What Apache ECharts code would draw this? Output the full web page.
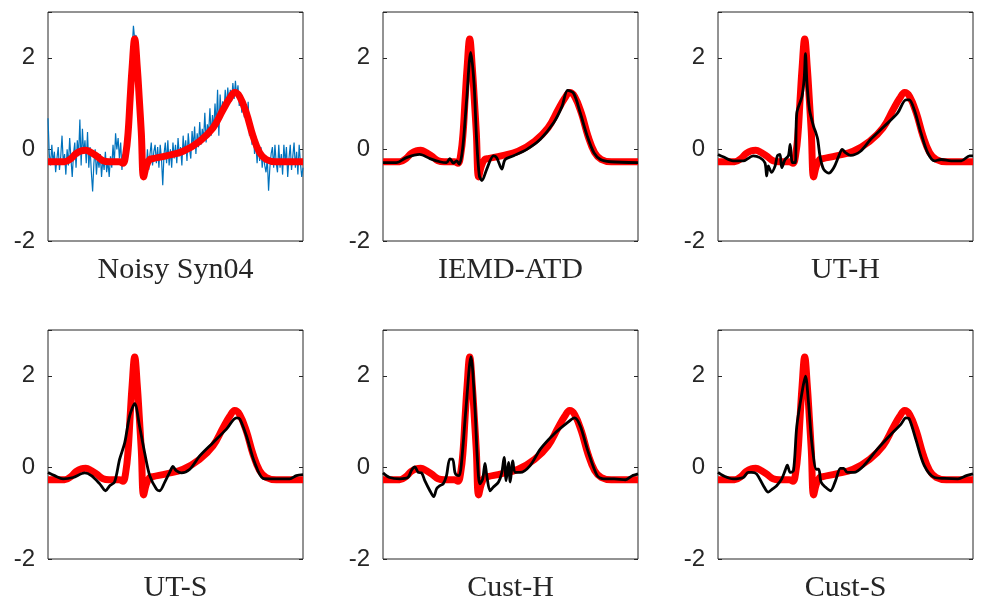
<!DOCTYPE html>
<html>
<head>
<meta charset="utf-8">
<script src="https://cdn.jsdelivr.net/npm/echarts@6/dist/echarts.min.js"></script>
<style>
  html, body { margin: 0; padding: 0; background: #fff; }
  #main { width: 981px; height: 604px; }
</style>
</head>
<body>
<div id="main"></div>
<script>
// panel titles
var titles = ['Noisy Syn04', 'IEMD-ATD', 'UT-H', 'UT-S', 'Cust-H', 'Cust-S'];
var yTicks = [-2, 0, 2];

// clean reference ECG (red, same in every panel)
var cleanX = [0, 6.5, 9, 11, 13, 14.8, 17, 19, 21.6, 24, 28, 29.4, 30.5, 31.4, 32.2, 33, 34, 35, 35.8, 36.6, 37.5, 38.6, 39.9, 41.2, 46.4, 53, 59.5, 64.7, 68.6, 71.2, 73.2, 75.2, 77.8, 80.4, 83, 85.6, 89.5, 100];
var cleanY = [-0.27, -0.27, -0.2, -0.09, -0.03, -0.02, -0.07, -0.14, -0.25, -0.27, -0.27, -0.30, -0.1, 0.36, 1.1, 1.8, 2.41, 1.8, 1.1, 0.36, -0.6, -0.36, -0.22, -0.2, -0.14, -0.04, 0.18, 0.47, 0.86, 1.11, 1.24, 1.15, 0.79, 0.29, -0.07, -0.22, -0.27, -0.27];

// noisy signal (blue), one sample every 0.5 x-units
var noisyY = [
  0.68, -0.1, -0.35, 0.1, -0.3, -0.05, -0.5, -0.2, 0.05, -0.45, -0.15, 0.3, -0.3, -0.1, -0.55, 0.0, -0.35, 0.25, -0.2, -0.6,
  -0.1, 0.15, -0.4, 0.2, -0.15, 0.65, -0.35, 0.45, -0.1, 0.2, -0.3, 0.38, -0.4, 0.05, -0.5, -0.92, -0.3, 0.0, -0.55, -0.15,
  -0.4, -0.1, -0.6, -0.2, -0.45, -0.05, -0.5, -0.25, -0.6, -0.15, -0.4, 0.1, -0.3, 0.35, 0.0, 0.25, -0.2, 0.15, -0.45, -0.1,
  -0.35, 0.1, 0.1, 0.7, 1.1, 1.6, 2.2, 2.7, 2.4, 2.5, 1.6, 1.3, 0.5, 0.3, -0.4, -0.55, -0.2, -0.5, 0.0, -0.45,
  -0.1, 0.15, -0.35, -0.05, 0.1, -0.3, 0.05, -0.4, 0.1, -0.2, -0.78, -0.1, 0.15, -0.3, 0.2, -0.35, 0.0, -0.4, 0.15, -0.2,
  0.1, -0.3, 0.25, -0.15, 0.05, -0.35, 0.3, -0.1, 0.2, -0.25, 0.35, 0.0, -0.2, 0.4, 0.05, 0.5, -0.1, 0.35, 0.05, 0.6,
  0.1, 0.45, 0.2, 0.8, 0.15, 0.55, 0.35, 0.9, 0.3, 0.75, 0.45, 1.0, 0.5, 1.3, 0.3, 1.2, 0.7, 1.05, 0.8, 1.3,
  0.9, 1.35, 1.0, 1.3, 1.05, 1.45, 1.1, 1.5, 1.15, 1.4, 0.95, 1.2, 0.8, 1.0, 0.7, 0.95, 0.55, 1.04, 0.3, 0.55,
  0.1, 0.4, -0.1, 0.15, -0.3, 0.1, -0.25, 0.05, -0.4, -0.1, -0.35, -0.5, -0.2, -0.9, -0.4, -0.1, 0.05, -0.4, 0.1, -0.3,
  -0.5, 0.1, -0.4, -0.1, -0.55, 0.1, -0.3, 0.05, -0.6, -0.2, 0.1, -0.45, -0.15, 0.15, -0.4, -0.05, -0.55, 0.1, -0.3, -0.6,
  -0.4
];

// denoised results (black)
var iemdX = [0, 5.2, 9.2, 14.4, 18.4, 22.3, 24.9, 26.2, 27.6, 28.9, 29.9, 31.2, 32.8, 34.4, 35.7, 36.7, 37.8, 38.8, 40.7, 43.3, 44.6, 46.6, 47.9, 51.2, 56.4, 61.7, 66.9, 70.2, 72.4, 74.8, 77.4, 80.1, 82.7, 85.3, 89.2, 100];
var iemdY = [-0.29, -0.29, -0.18, -0.11, -0.2, -0.27, -0.29, -0.2, -0.3, -0.25, -0.32, 0, 1.08, 2.12, 1.44, 0.22, -0.58, -0.68, -0.43, -0.14, -0.18, -0.43, -0.22, -0.14, 0, 0.22, 0.58, 0.94, 1.29, 1.22, 0.79, 0.29, -0.07, -0.22, -0.27, -0.29];

var uthX = [0, 2, 5.9, 9.9, 13.8, 16.4, 18.4, 19.1, 19.7, 21, 22.4, 23.3, 24.3, 25, 26.3, 27.6, 28.3, 29.2, 30.3, 30.9, 32.9, 33.8, 34.3, 34.9, 35.9, 37.5, 38.4, 39.1, 40.1, 41.4, 43.4, 45.4, 47.4, 48.7, 50, 52, 55.9, 59.9, 65.1, 70.4, 73.7, 75, 77, 79.6, 82.2, 84.9, 87.5, 91.4, 95.4, 98.7, 100];
var uthY = [-0.11, -0.16, -0.25, -0.25, -0.14, -0.18, -0.29, -0.58, -0.36, -0.5, -0.36, -0.14, -0.11, -0.4, -0.22, -0.14, 0.11, -0.29, -0.29, 0.79, 1.15, 1.55, 2.09, 1.44, 0.86, 0.5, 0.36, 0.22, -0.18, -0.43, -0.52, -0.4, -0.14, 0, -0.07, -0.13, -0.04, 0.22, 0.5, 0.79, 1.08, 1.08, 0.86, 0.36, -0.07, -0.25, -0.22, -0.25, -0.25, -0.14, -0.14];

var utsX = [0, 2.6, 5.9, 9.8, 14.4, 17, 20.3, 22.6, 24.2, 26.1, 28.1, 30.1, 32, 34, 35.9, 37.9, 39.9, 42.5, 43.8, 45.8, 47.7, 49, 50.3, 52.3, 55.6, 59.5, 64.7, 69.9, 73.9, 75.2, 77.8, 81, 84.3, 86.9, 90.8, 94.8, 97.4, 100];
var utsY = [-0.11, -0.18, -0.25, -0.22, -0.12, -0.18, -0.36, -0.51, -0.4, -0.32, 0.18, 0.54, 1.12, 1.39, 0.9, 0.32, -0.18, -0.47, -0.51, -0.32, -0.11, 0.02, -0.07, -0.12, -0.04, 0.25, 0.54, 0.83, 1.08, 1.06, 0.69, 0.11, -0.24, -0.25, -0.25, -0.25, -0.18, -0.16];

var custhX = [0, 2.6, 6.6, 9.8, 11.2, 12.5, 13.8, 15.1, 16.4, 18.4, 19.9, 21, 22.3, 23.6, 24.9, 26.2, 27.3, 28.2, 28.9, 29.9, 30.8, 32.5, 34.5, 36.1, 37, 38, 39.1, 40, 40.7, 42, 43.3, 45.3, 46.6, 47.5, 48.3, 49.2, 49.9, 50.9, 51.8, 53.8, 57.7, 61.7, 66.9, 72.2, 75.1, 77.4, 80.1, 84, 86.6, 90.6, 95.1, 97.8, 100];
var custhY = [-0.12, -0.22, -0.25, -0.22, -0.06, 0.01, -0.11, -0.12, -0.29, -0.51, -0.64, -0.47, -0.4, -0.36, -0.18, 0.18, 0.18, -0.11, -0.17, -0.18, 0.11, 1.26, 2.42, 1.26, 0.18, -0.36, -0.25, 0.09, -0.18, -0.51, -0.43, -0.32, -0.11, 0.22, -0.29, 0.11, -0.32, 0.14, -0.11, -0.11, 0.04, 0.4, 0.72, 0.97, 1.08, 0.9, 0.4, -0.18, -0.25, -0.25, -0.27, -0.18, -0.14];

var custsX = [0, 2, 5.9, 9.9, 11.8, 13.2, 15.1, 17.8, 19.7, 21.4, 23, 25, 26.3, 27.2, 28.3, 29.6, 30.9, 32.9, 34.3, 35.5, 36.8, 38.6, 39.5, 40.4, 42.1, 44.1, 46.1, 48, 49.3, 50.7, 53.3, 57.2, 62.5, 67.8, 71.7, 73.7, 75, 77.6, 80.9, 84.9, 88.8, 94.1, 97.4, 100];
var custsY = [-0.11, -0.18, -0.25, -0.22, -0.11, -0.11, -0.14, -0.4, -0.54, -0.47, -0.4, -0.25, -0.07, 0.05, -0.11, -0.07, 0.9, 1.62, 1.99, 1.41, 0.54, -0.04, -0.04, -0.32, -0.43, -0.51, -0.29, -0.02, -0.02, -0.11, -0.11, 0.04, 0.4, 0.72, 0.94, 1.08, 1.06, 0.61, 0.04, -0.22, -0.24, -0.25, -0.18, -0.14];

function zip(xs, ys) {
  return xs.map(function (x, i) { return [x, ys[i]]; });
}

var lefts = [48, 383, 718];
var tops = [12, 330];
var panelW = 255, panelH = 229;
var axisColor = '#262626';

var grids = [], xAxes = [], yAxes = [], series = [], titleOpts = [];
var blackSets = [null, [iemdX, iemdY], [uthX, uthY], [utsX, utsY], [custhX, custhY], [custsX, custsY]];

for (var i = 0; i < 6; i++) {
  var col = i % 3, row = Math.floor(i / 3);
  grids.push({
    left: lefts[col], top: tops[row], width: panelW, height: panelH,
    show: true, borderColor: axisColor, borderWidth: 1, backgroundColor: '#fff'
  });
  xAxes.push({
    gridIndex: i, type: 'value', min: 0, max: 100,
    axisLine: { show: false }, axisTick: { show: false },
    axisLabel: { show: false }, splitLine: { show: false }
  });
  ['left', 'right'].forEach(function (pos) {
    yAxes.push({
      gridIndex: i, type: 'value', position: pos, min: -2, max: 3, interval: 2,
      axisLine: { show: false },
      axisTick: { show: true, inside: true, length: 4, lineStyle: { color: axisColor } },
      axisLabel: {
        show: pos === 'left', margin: 13, color: axisColor, fontSize: 24,
        fontFamily: 'Liberation Sans, Arial, sans-serif',
        formatter: function (v) { return yTicks.indexOf(v) >= 0 ? String(v) : ''; }
      },
      splitLine: { show: false }
    });
  });
  var yIdx = i * 2;
  if (i === 0) {
    series.push({
      type: 'line', xAxisIndex: i, yAxisIndex: yIdx, showSymbol: false,
      data: noisyY.map(function (v, k) { return [k * 0.5, v]; }),
      lineStyle: { color: '#0072BD', width: 1.2 }
    });
  }
  series.push({
    type: 'line', xAxisIndex: i, yAxisIndex: yIdx, showSymbol: false, smooth: 0.4,
    data: zip(cleanX, cleanY),
    lineStyle: { color: '#ff0000', width: 7 }
  });
  if (blackSets[i]) {
    series.push({
      type: 'line', xAxisIndex: i, yAxisIndex: yIdx, showSymbol: false, smooth: 0.3,
      data: zip(blackSets[i][0], blackSets[i][1]),
      lineStyle: { color: '#000', width: 2.8 }
    });
  }
  titleOpts.push({
    text: titles[i], left: lefts[col] + panelW / 2, top: tops[row] + panelH + 14,
    textAlign: 'center', padding: 0,
    textStyle: { fontFamily: 'Liberation Serif, Times New Roman, serif', fontWeight: 'normal', fontSize: 30, color: axisColor }
  });
}

var chart = echarts.init(document.getElementById('main'));
chart.setOption({
  animation: false,
  backgroundColor: '#fff',
  title: titleOpts,
  grid: grids,
  xAxis: xAxes,
  yAxis: yAxes,
  series: series
});
</script>
</body>
</html>
